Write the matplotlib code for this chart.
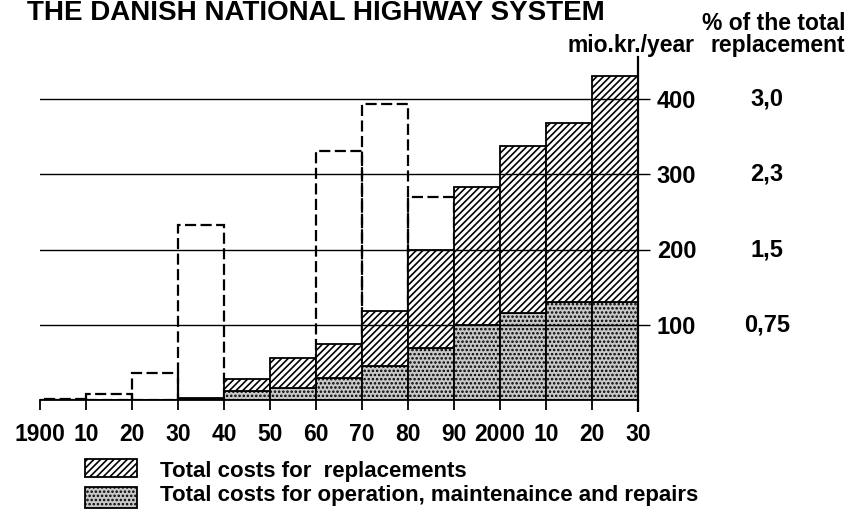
import numpy as np
import matplotlib
matplotlib.use('Agg')
import matplotlib.pyplot as plt
from matplotlib.patches import Rectangle

# data (mio.kr./year)
decades = [1900, 1910, 1920, 1930, 1940, 1950, 1960, 1970, 1980, 1990, 2000, 2010, 2020]
operation = [0, 0, 0, 1, 12, 16, 29, 45, 69, 100, 115, 130, 130]
replacement = [0, 0, 0, 2, 16, 40, 46, 73, 131, 183, 223, 238, 300]
# dashed outline bars (nan = no bar)
dashed = [1, 8, 36, 233, np.nan, np.nan, 331, 393, 270, np.nan, np.nan, np.nan, np.nan]

xtick_pos = list(range(1900, 2031, 10))
xtick_labels = ['1900', '10', '20', '30', '40', '50', '60', '70', '80', '90', '2000', '10', '20', '30']
ytick_pos = [100, 200, 300, 400]
ytick_labels = ['100', '200', '300', '400']
pct_labels = ['0,75', '1,5', '2,3', '3,0']

plt.rcParams['font.family'] = ['Liberation Sans', 'DejaVu Sans']
plt.rcParams['font.weight'] = 'bold'
plt.rcParams['hatch.linewidth'] = 1.2

W, H = 847, 516
fig = plt.figure(figsize=(W / 100, H / 100), dpi=100)

def fx(px):
    return px / W

def fy(py):
    return 1 - py / H

ax = fig.add_axes([fx(40), fy(400), (638 - 40) / W, (400 - 57) / H])
ax.set_xlim(1900, 2030)
ax.set_ylim(0, 343 / 0.7525)

# dashed outline bars behind
ax.bar(decades, dashed, width=10, align='edge', facecolor='none', edgecolor='black',
       linewidth=1.6, linestyle=(0, (5, 2)), zorder=0.8)

# stacked bars
ax.bar(decades, operation, width=10, align='edge', facecolor='#c8c8c8', edgecolor='black',
       hatch='....', linewidth=1.3, zorder=1)
ax.bar(decades, replacement, bottom=operation, width=10, align='edge', facecolor='white',
       edgecolor='black', hatch='/////', linewidth=1.3, zorder=1)

# axes styling
for s in ['left', 'top']:
    ax.spines[s].set_visible(False)
ax.spines['bottom'].set_linewidth(1.3)
ax.spines['right'].set_linewidth(1.6)
ax.yaxis.tick_right()
ax.set_yticks(ytick_pos)
ax.set_yticklabels(ytick_labels)
ax.tick_params(axis='y', direction='out', length=8.6, width=1.0, pad=5, labelsize=17)
ax.set_xticks(xtick_pos)
ax.set_xticklabels(xtick_labels)
ax.tick_params(axis='x', direction='out', length=7.2, width=1.3, pad=9.5, labelsize=16.5)
ax.set_axisbelow(False)
ax.grid(axis='y', color='black', linewidth=1.0)
ax.vlines(2030, -16, 0, color='black', linewidth=1.6, clip_on=False)

# % of total replacement column
for v, lab in zip(ytick_pos, pct_labels):
    ax.text(2058, v, lab, ha='center', va='center', fontsize=17, fontweight='bold', clip_on=False)

# headers
fig.text(fx(845), fy(30), '% of the total', ha='right', va='baseline', fontsize=16.5, fontweight='bold')
fig.text(fx(694), fy(52), 'mio.kr./year', ha='right', va='baseline', fontsize=16.5, fontweight='bold')
fig.text(fx(845), fy(52), 'replacement', ha='right', va='baseline', fontsize=16.5, fontweight='bold')

# title at the top edge
fig.text(fx(605), fy(20), 'THE DANISH NATIONAL HIGHWAY SYSTEM', ha='right', va='baseline',
         fontsize=20, fontweight='bold')

# legend drawn by hand
fig.add_artist(Rectangle((fx(85), fy(477)), 52 / W, 18 / H, transform=fig.transFigure,
                         facecolor='white', edgecolor='black', hatch='/////', linewidth=1.3))
fig.add_artist(Rectangle((fx(85), fy(508)), 52 / W, 21 / H, transform=fig.transFigure,
                         facecolor='#c8c8c8', edgecolor='black', hatch='....', linewidth=1.3))
fig.text(fx(160), fy(477), 'Total costs for  replacements', ha='left', va='baseline', fontsize=16)
fig.text(fx(160), fy(501), 'Total costs for operation, maintenaince and repairs', ha='left',
         va='baseline', fontsize=16)

plt.savefig('out.png', dpi=100)
